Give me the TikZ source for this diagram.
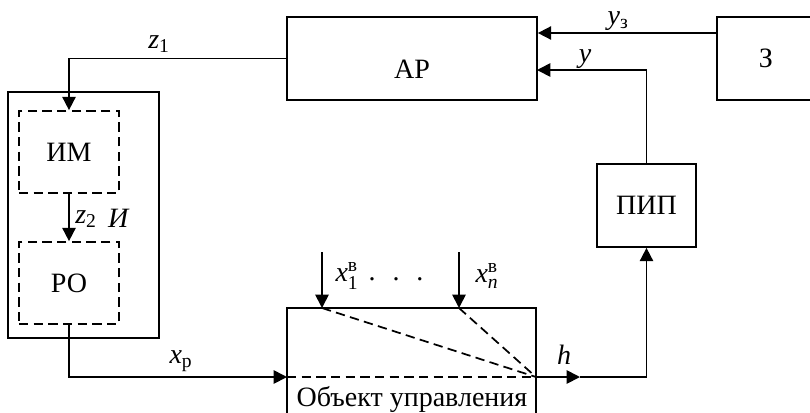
\documentclass[tikz,border=0pt]{standalone}
\usepackage{amsmath}
\usepackage{fontspec}
\setmainfont{Liberation Serif}
\usepackage{tikz}
\usetikzlibrary{
	arrows.meta,
	calc,
	positioning
}
\newcommand{\var}[1]{\textit{#1}}
\newcommand{\varsb}[3]{$\text{\textit{#1}}^{\text{#2}}_{\text{#3}}$}

\begin{document}
\begin{tikzpicture}[x=0.75pt, y=-0.75pt,
	font=\fontsize{21}{24}\selectfont,
	block/.style={draw, line width=1.3pt, inner sep=0pt},
	subblock/.style={draw, line width=1.3pt, inner sep=0pt, dash pattern=on 7pt off 4pt},
	arr/.style={line width=1.3pt, -{Triangle[length=10pt, width=10pt]}},
	wire/.style={line width=1.3pt},
	guide/.style={line width=1.3pt, dash pattern=on 7pt off 4pt}]
		\useasboundingbox (0,0) rectangle (810,412);
		
		% 方框
		\node[block, minimum width=187.5pt, minimum height=62.25pt] (AR) at (412,58.5) {};
		\node (ARtext) at (412,69) {АР};
		\node[block, minimum width=73.5pt, minimum height=62.25pt] (Z) at (766,58.5) {З};
		\node[block, minimum width=74.25pt, minimum height=62.25pt] (PIP) at (646.5,205.5) {ПИП};
		\node[block, minimum width=113.25pt, minimum height=184.5pt] (I) at (83.5,215) {};
		\node[subblock, minimum width=75pt, minimum height=61.5pt] (IM) at (69,152) {ИМ};
		\node[subblock, minimum width=75pt, minimum height=61.5pt] (RO) at (69,283) {РО};
		\node[block, minimum width=186.75pt, minimum height=79.5pt] (OU) at (411.5,361) {};
		\node (OUtext) at (412,399) {Объект управления};
		
		% 坐标点
		\coordinate (yz) at (717,33);
		\coordinate (yin) at (537,70);
		\coordinate (s1) at (322,252);
		\coordinate (sn) at (459,252);
		\coordinate (in1) at (322,308);
		\coordinate (inn) at (459,308);
		\coordinate (xin) at (287,377);
		\coordinate (hout) at (536,377);
		\coordinate (hmid) at (580,377);
		
		% 连线
		\draw[arr] (AR.west) -| (IM.north);
		\draw[arr] (IM.south) -- (RO.north);
		\draw[arr] (RO.south) |- (xin);
		\draw[arr] (yz) -- (AR.east |- yz);
		\draw[arr] (PIP.north) |- (yin);
		\draw[arr] (s1) -- (in1);
		\draw[arr] (sn) -- (inn);
		\draw[arr] (hout) -- (hmid);
		\draw[wire] (hmid) -- (PIP.south |- hout);
		\draw[arr] (PIP.south |- hout) -- (PIP.south);
		
		% 虚线
		\draw[guide] (xin) -- (hout);
		\draw[guide] (in1) -- (hout);
		\draw[guide] (inn) -- (hout);
		
		% 标注
		\node (z1) at (159,44) {\var{z}\textsubscript{1}};
		\node (z2) at (86,219) {\var{z}\textsubscript{2}};
		\node (Ilabel) at (119,218) {\var{И}};
		\node (xp) at (181,361) {\var{x}\textsubscript{р}};
		\node (x1) at (347,276) {\varsb{x}{в}{1}};
		\node (dots) at (396,279) {.\hspace{0.6em}.\hspace{0.6em}.};
		\node (xn) at (487,276) {\varsb{x}{в}{\textit{n}}};
		\node (yzlabel) at (618,21) {\var{y}\textsubscript{з}};
		\node (ylabel) at (585,59) {\var{y}};
		\node (hlabel) at (564,355) {\var{h}};
	\end{tikzpicture}
\end{document}
